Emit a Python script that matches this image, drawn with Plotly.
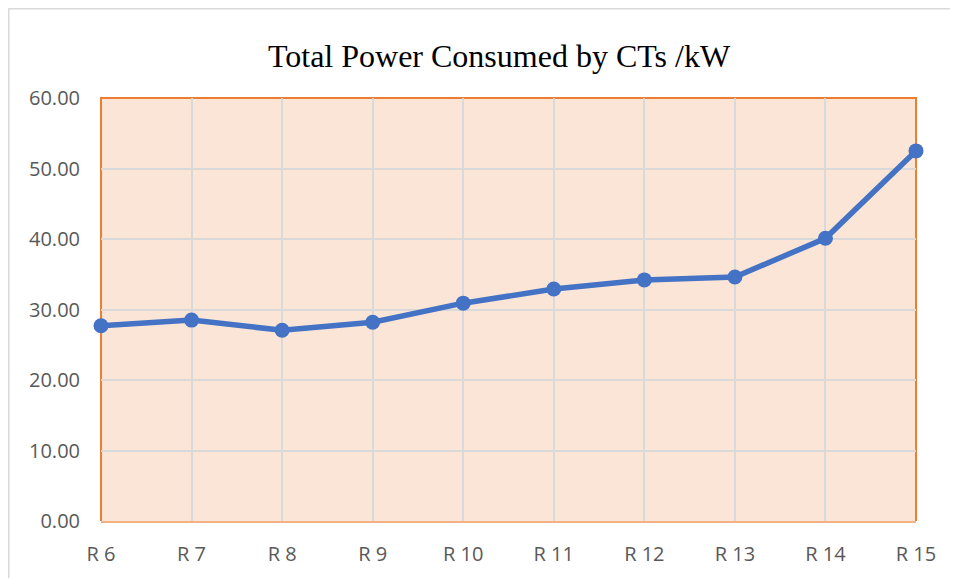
import plotly.graph_objects as go

categories = ["R 6", "R 7", "R 8", "R 9", "R 10", "R 11", "R 12", "R 13", "R 14", "R 15"]
power_kw = [27.7, 28.5, 27.05, 28.2, 30.9, 32.9, 34.2, 34.6, 40.1, 52.5]
y_ticks = [0, 10, 20, 30, 40, 50, 60]
y_tick_labels = ["0.00", "10.00", "20.00", "30.00", "40.00", "50.00", "60.00"]

OFF = 8  # page body margin
W, H = 958 - OFF, 578 - OFF
L, R, T, B = 101 - OFF, 958 - 916, 98 - OFF, 578 - 521
pw, ph = W - L - R, H - T - B

fig = go.Figure()
fig.add_trace(go.Scatter(
    x=list(range(len(categories))), y=power_kw, mode="lines+markers",
    line=dict(color="#4472C4", width=5.5),
    marker=dict(color="#4472C4", size=15),
    cliponaxis=False, showlegend=False,
))

# outer chart border (top and left only visible)
fig.add_shape(type="line", xref="paper", yref="paper",
              x0=(0.5 - L) / pw, x1=(W - L) / pw,
              y0=(H - B - 0.5) / ph, y1=(H - B - 0.5) / ph,
              line=dict(color="#D9D9D9", width=2), layer="below")
fig.add_shape(type="line", xref="paper", yref="paper",
              x0=(0.5 - L) / pw, x1=(0.5 - L) / pw,
              y0=(H - B - 0.5) / ph, y1=-B / ph,
              line=dict(color="#D9D9D9", width=2), layer="below")
# plot area border: left, top, right orange
fig.add_shape(type="path", xref="paper", yref="paper",
              path="M 0 0 L 0 1 L 1 1 L 1 0",
              line=dict(color="#ED7D31", width=2), layer="below")

fig.update_layout(
    width=W, height=H,
    margin=dict(l=L, r=R, t=T, b=B),
    paper_bgcolor="white", plot_bgcolor="#FBE5D6",
    title=dict(text="Total Power Consumed by CTs /kW", x=(499 - OFF) / W, xanchor="center",
               y=1 - (56 - OFF) / H, yanchor="middle",
               font=dict(family="Liberation Serif, Times New Roman, serif", size=32, color="black")),
    xaxis=dict(tickmode="array", tickvals=list(range(len(categories))), ticktext=categories,
               range=[0, len(categories) - 1], showgrid=True, gridcolor="#D9D9D9", gridwidth=2,
               zeroline=False, showline=True, linecolor="#F4B183", linewidth=2,
               tickfont=dict(family="Open Sans, sans-serif", size=20, color="#595959"),
               ticks="", ticklabelstandoff=14),
    yaxis=dict(tickmode="array", tickvals=y_ticks, ticktext=y_tick_labels, range=[0, 60],
               showgrid=True, gridcolor="#D9D9D9", gridwidth=2, zeroline=False,
               tickfont=dict(family="Open Sans, sans-serif", size=20, color="#595959"),
               ticks="", ticklabelstandoff=20),
)

fig.write_html("out.html")
